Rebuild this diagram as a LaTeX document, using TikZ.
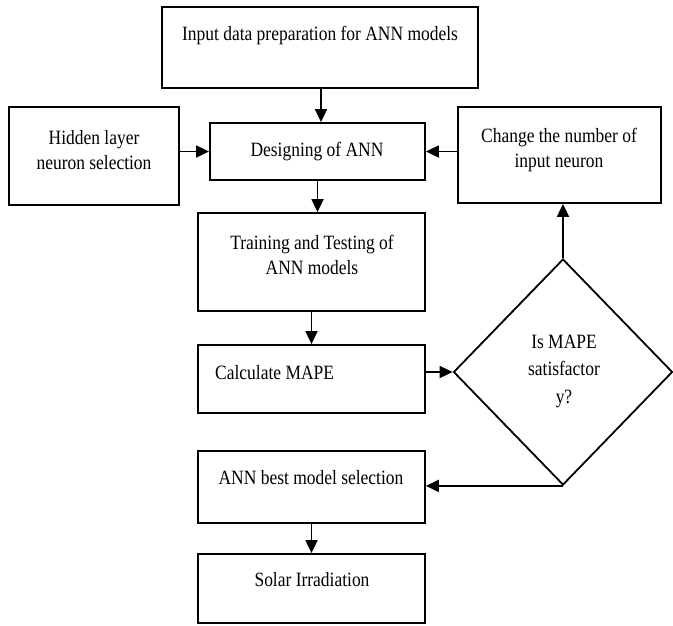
\documentclass[tikz,border=0pt]{standalone}
\usepackage{fontspec}
\setmainfont[FakeStretch=0.86]{Liberation Serif}
\usetikzlibrary{shapes.geometric,arrows.meta,calc}
\begin{document}
\begin{tikzpicture}[x=1pt,y=-1pt,
  box/.style={draw,line width=1.8pt,inner sep=0pt,minimum width=#1},
  txt/.style={inner sep=0pt,align=center,font=\fontsize{20.3}{25}\selectfont},
  arr/.style={line width=1.8pt,-{Triangle[length=13pt,width=12pt]}}]
\useasboundingbox (0,0) rectangle (673,625);
% boxes (centre, width, height)
\node[box=316pt,minimum height=81pt] (top) at (320,47.5) {};
\node[box=215pt,minimum height=57pt] (des) at (317.5,151.5) {};
\node[box=170pt,minimum height=98pt] (hid) at (94,156) {};
\node[box=203pt,minimum height=96pt] (chg) at (559.5,155) {};
\node[box=227pt,minimum height=98pt] (tra) at (311.5,262) {};
\node[box=227pt,minimum height=68pt] (cal) at (311.5,379) {};
\node[draw,line width=1.8pt,diamond,inner sep=0pt,minimum width=219pt,minimum height=226pt] (dia) at (563,372) {};
\node[box=227pt,minimum height=72pt] (best) at (311.5,487) {};
\node[box=227pt,minimum height=69pt] (sol) at (311.5,588.5) {};
% texts
\node[txt] (ttop) at (320,36) {Input data preparation for ANN models};
\node[txt] (tdes) at (317,152) {Designing of ANN};
\node[txt] (thid) at (94,150) {Hidden layer\\neuron selection};
\node[txt] (tchg) at (559,150) {Change the number of\\input neuron};
\node[txt] (ttra) at (312,255) {Training and Testing of\\ANN models};
\node[txt,anchor=west] (tcal) at (215,373) {Calculate MAPE};
\node[txt,font=\fontsize{20.3}{27.5}\selectfont] (tdia) at (564,371) {Is MAPE\\satisfactor\\y?};
\node[txt] (tbest) at (311,478) {ANN best model selection};
\node[txt] (tsol) at (312,580) {Solar Irradiation};
% connectors
\draw[arr] ([xshift=1pt]top.south) -- ([xshift=1pt]top.south |- des.north);
\draw[arr] (hid.east |- des.west) -- (des.west);
\draw[arr] (chg.west |- des.east) -- (des.east);
\draw[arr] (des.south) -- (des.south |- tra.north);
\draw[arr] (tra.south) -- (cal.north);
\draw[arr] (cal.east |- dia.west) -- (dia.west);
\draw[arr] (dia.north) -- (dia.north |- chg.south);
\draw[arr] (dia.south) -- (best.east |- dia.south);
\draw[arr] (best.south) -- (sol.north);
\end{tikzpicture}
\end{document}
